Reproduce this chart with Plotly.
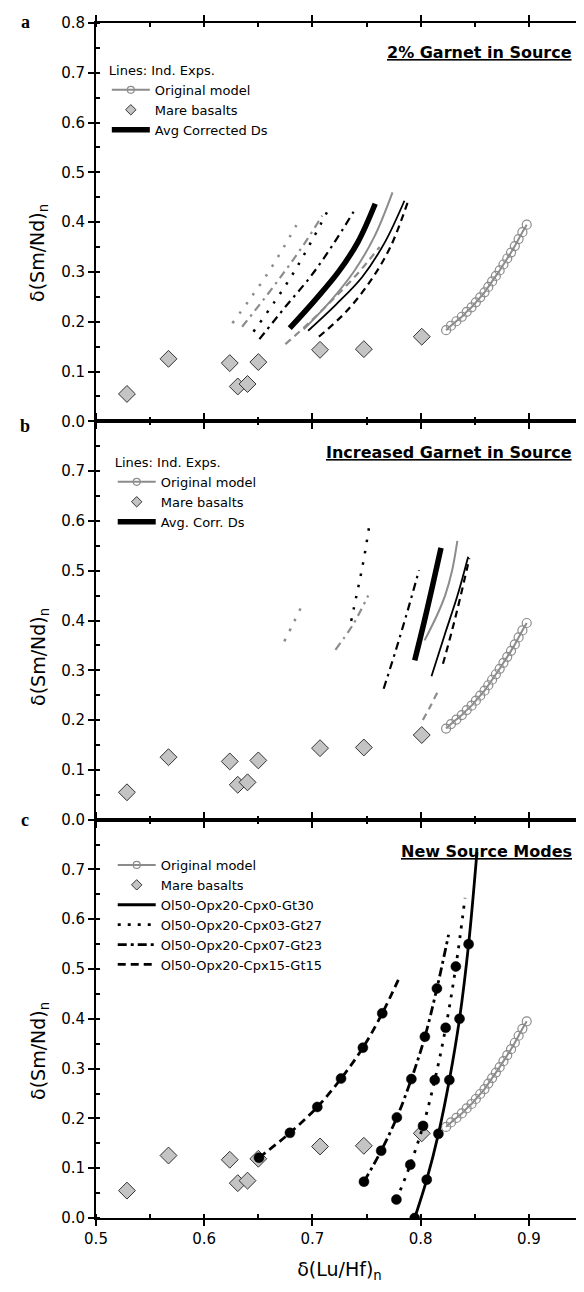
import plotly.graph_objects as go

# ---------------- data ----------------
mare_x = [0.5286, 0.567, 0.6236, 0.631, 0.640, 0.650, 0.707, 0.7475, 0.801]
mare_y = [0.055, 0.1255, 0.117, 0.070, 0.075, 0.119, 0.1436, 0.145, 0.170]

orig_x = [0.8235, 0.828, 0.833, 0.838, 0.8425, 0.847, 0.851, 0.855, 0.859, 0.8625,
          0.866, 0.8695, 0.873, 0.8765, 0.880, 0.8835, 0.887, 0.8905, 0.894, 0.898]
orig_y = [0.183, 0.192, 0.201, 0.210, 0.220, 0.229, 0.239, 0.249, 0.259, 0.270,
          0.281, 0.292, 0.303, 0.315, 0.327, 0.339, 0.352, 0.366, 0.380, 0.395]

# panel a: 2% garnet in source (individual experiments)
a_gray_dot_x = [0.626, 0.642, 0.658, 0.673, 0.688]
a_gray_dot_y = [0.197, 0.245, 0.295, 0.348, 0.405]
a_gray_dashdot_x = [0.635, 0.655, 0.674, 0.692, 0.709]
a_gray_dashdot_y = [0.190, 0.245, 0.300, 0.355, 0.413]
a_black_dot_x = [0.6455, 0.665, 0.683, 0.700, 0.717]
a_black_dot_y = [0.180, 0.240, 0.300, 0.365, 0.435]
a_black_dashdot_x = [0.651, 0.675, 0.698, 0.719, 0.738]
a_black_dashdot_y = [0.165, 0.230, 0.290, 0.355, 0.421]
a_avg_x = [0.679, 0.703, 0.724, 0.742, 0.758]
a_avg_y = [0.187, 0.245, 0.300, 0.360, 0.437]
a_gray_solid_x = [0.692, 0.716, 0.738, 0.757, 0.774]
a_gray_solid_y = [0.185, 0.240, 0.300, 0.370, 0.460]
a_gray_dash_x = [0.675, 0.697, 0.719, 0.741, 0.762]
a_gray_dash_y = [0.155, 0.198, 0.245, 0.295, 0.350]
a_black_solid_x = [0.696, 0.722, 0.746, 0.767, 0.785]
a_black_solid_y = [0.182, 0.235, 0.290, 0.360, 0.443]
a_black_dash_x = [0.706, 0.731, 0.753, 0.772, 0.788]
a_black_dash_y = [0.170, 0.220, 0.280, 0.350, 0.440]

# panel b: increased garnet in source
b_gray_dot_x = [0.674, 0.682, 0.690]
b_gray_dot_y = [0.358, 0.393, 0.429]
b_gray_dashdot_x = [0.7212, 0.7375, 0.7515]
b_gray_dashdot_y = [0.341, 0.392, 0.450]
b_black_dot_x = [0.7358, 0.7403, 0.7448, 0.7488, 0.7524]
b_black_dot_y = [0.399, 0.446, 0.493, 0.540, 0.589]
b_black_dashdot_x = [0.7658, 0.777, 0.788, 0.7985]
b_black_dashdot_y = [0.263, 0.340, 0.420, 0.501]
b_avg_x = [0.7945, 0.803, 0.811, 0.8188]
b_avg_y = [0.320, 0.395, 0.470, 0.546]
b_gray_solid_x = [0.8036, 0.815, 0.8227, 0.829, 0.8339]
b_gray_solid_y = [0.360, 0.410, 0.451, 0.500, 0.560]
b_black_solid_x = [0.810, 0.822, 0.834, 0.8439]
b_black_solid_y = [0.288, 0.370, 0.450, 0.528]
b_black_dash_x = [0.8206, 0.829, 0.837, 0.845]
b_black_dash_y = [0.313, 0.380, 0.450, 0.525]
b_gray_dash_x = [0.802, 0.809, 0.8155]
b_gray_dash_y = [0.200, 0.228, 0.256]

# panel c: new source modes (last point of each list is the line end, no marker)
c_gt30_x = [0.7945, 0.8056, 0.8164, 0.8265, 0.8359, 0.8443, 0.852]
c_gt30_y = [0.000, 0.077, 0.169, 0.277, 0.400, 0.550, 0.735]
c_gt27_x = [0.7776, 0.7904, 0.8022, 0.8130, 0.8231, 0.8325, 0.8410]
c_gt27_y = [0.037, 0.107, 0.185, 0.277, 0.382, 0.505, 0.643]
c_gt23_x = [0.7476, 0.7635, 0.7780, 0.7914, 0.8039, 0.8150, 0.8258]
c_gt23_y = [0.073, 0.135, 0.202, 0.279, 0.364, 0.461, 0.569]
c_gt15_x = [0.6506, 0.6792, 0.7045, 0.7264, 0.7466, 0.7645, 0.7803]
c_gt15_y = [0.121, 0.171, 0.223, 0.280, 0.342, 0.411, 0.483]

x_ticks = [0.5, 0.6, 0.7, 0.8, 0.9]
y_ticks_top = [0.0, 0.1, 0.2, 0.3, 0.4, 0.5, 0.6, 0.7, 0.8]
y_ticks_low = [0.0, 0.1, 0.2, 0.3, 0.4, 0.5, 0.6, 0.7]

panel_titles = ["2% Garnet in Source", "Increased Garnet in Source", "New Source Modes"]
panel_letters = ["a", "b", "c"]
legend_titles = ["Lines: Ind. Exps.", "Lines: Ind. Exps.", None]
avg_names = ["Avg Corrected Ds", "Avg. Corr. Ds"]
mode_names = ["Ol50-Opx20-Cpx0-Gt30", "Ol50-Opx20-Cpx03-Gt27",
              "Ol50-Opx20-Cpx07-Gt23", "Ol50-Opx20-Cpx15-Gt15"]

# ---------------- styles ----------------
GRAY = "#8c8c8c"
BLACK = "#000000"
DOT = "2.5px,9px"
DASHDOT = "8px,5px,2.5px,5px"
DASH = "7px,5px"
FONT = "DejaVu Sans"

fig = go.Figure()


def add_line(xs, ys, color, width, dash, ax):
    fig.add_trace(go.Scatter(x=xs, y=ys, mode="lines", showlegend=False,
                             line=dict(color=color, width=width, dash=dash,
                                       shape="spline", smoothing=1),
                             xaxis=ax[0], yaxis=ax[1], hoverinfo="skip"))


def add_common(ax):
    fig.add_trace(go.Scatter(x=orig_x, y=orig_y, mode="lines+markers", showlegend=False,
                             line=dict(color=GRAY, width=2, shape="spline"),
                             marker=dict(symbol="circle-open", size=9, color=GRAY,
                                         line=dict(width=1.2, color=GRAY)),
                             xaxis=ax[0], yaxis=ax[1]))
    fig.add_trace(go.Scatter(x=mare_x, y=mare_y, mode="markers", showlegend=False,
                             marker=dict(symbol="diamond", size=13, color="#c4c4c4",
                                         line=dict(width=1, color="#333333")),
                             xaxis=ax[0], yaxis=ax[1]))


def legend_entry(name, leg, mode, line=None, marker=None):
    kw = dict(x=[None], y=[None], mode=mode, name=name, legend=leg, showlegend=True)
    if line is not None:
        kw["line"] = line
    if marker is not None:
        kw["marker"] = marker
    fig.add_trace(go.Scatter(**kw))


axes = [("x", "y"), ("x2", "y2"), ("x3", "y3")]
legs = ["legend", "legend2", "legend3"]

# panel a
ax = axes[0]
add_line(a_gray_dot_x, a_gray_dot_y, GRAY, 2.5, DOT, ax)
add_line(a_gray_dashdot_x, a_gray_dashdot_y, GRAY, 2.2, DASHDOT, ax)
add_line(a_black_dot_x, a_black_dot_y, BLACK, 2.5, DOT, ax)
add_line(a_black_dashdot_x, a_black_dashdot_y, BLACK, 2.2, DASHDOT, ax)
add_line(a_gray_dash_x, a_gray_dash_y, GRAY, 2.2, DASH, ax)
add_line(a_black_dash_x, a_black_dash_y, BLACK, 2.2, DASH, ax)
add_line(a_black_solid_x, a_black_solid_y, BLACK, 1.8, "solid", ax)
add_line(a_gray_solid_x, a_gray_solid_y, GRAY, 2, "solid", ax)
add_line(a_avg_x, a_avg_y, BLACK, 5.5, "solid", ax)
add_common(ax)

# panel b
ax = axes[1]
add_line(b_gray_dot_x, b_gray_dot_y, GRAY, 2.5, DOT, ax)
add_line(b_gray_dashdot_x, b_gray_dashdot_y, GRAY, 2.2, DASHDOT, ax)
add_line(b_black_dot_x, b_black_dot_y, BLACK, 2.5, DOT, ax)
add_line(b_black_dashdot_x, b_black_dashdot_y, BLACK, 2.2, DASHDOT, ax)
add_line(b_gray_dash_x, b_gray_dash_y, GRAY, 2.2, DASH, ax)
add_line(b_black_dash_x, b_black_dash_y, BLACK, 2.2, DASH, ax)
add_line(b_black_solid_x, b_black_solid_y, BLACK, 1.8, "solid", ax)
add_line(b_gray_solid_x, b_gray_solid_y, GRAY, 2, "solid", ax)
add_line(b_avg_x, b_avg_y, BLACK, 5.5, "solid", ax)
add_common(ax)

# panel c
ax = axes[2]
add_common(ax)
mode_dashes = ["solid", "3px,7px", "9px,4px,3px,4px", "8px,5px"]
mode_data = [(c_gt30_x, c_gt30_y), (c_gt27_x, c_gt27_y),
             (c_gt23_x, c_gt23_y), (c_gt15_x, c_gt15_y)]
for (xs, ys), dsh in zip(mode_data, mode_dashes):
    fig.add_trace(go.Scatter(x=xs, y=ys, mode="lines", showlegend=False,
                             line=dict(color=BLACK, width=2.8, dash=dsh, shape="spline", smoothing=1),
                             xaxis=ax[0], yaxis=ax[1], hoverinfo="skip"))
    fig.add_trace(go.Scatter(x=xs[:-1], y=ys[:-1], mode="markers", showlegend=False,
                             marker=dict(symbol="circle", size=10, color=BLACK, opacity=1,
                                         line=dict(width=0.5, color=BLACK)),
                             xaxis=ax[0], yaxis=ax[1]))

# legends
for i, leg in enumerate(legs):
    legend_entry("Original model", leg, "lines+markers",
                 line=dict(color=GRAY, width=2),
                 marker=dict(symbol="circle-open", size=7, color=GRAY, line=dict(width=1.2, color=GRAY)))
    legend_entry("Mare basalts", leg, "markers",
                 marker=dict(symbol="diamond", size=8, color="#c4c4c4", line=dict(width=1, color="#333333")))
    if i < 2:
        legend_entry(avg_names[i], leg, "lines", line=dict(color=BLACK, width=5.5))
    else:
        for nm, dsh in zip(mode_names, mode_dashes):
            legend_entry(nm, leg, "lines", line=dict(color=BLACK, width=2.8, dash=dsh))

# ---------------- layout ----------------
W, H = 584, 1292
ML, MR, MT, MB = 88, 1, 15, 82
PW, PH = W - ML - MR, H - MT - MB


def px_x(p):
    return (p - ML) / PW


def px_y(p):
    return 1 - (p - MT) / PH


domains = [[2 / 3, 1], [1 / 3, 2 / 3], [0, 1 / 3]]
layout = dict(width=W, height=H, margin=dict(l=ML, r=MR, t=MT, b=MB),
              paper_bgcolor="white", plot_bgcolor="white",
              font=dict(family=FONT, color="black", size=13))

for i in range(3):
    sfx = "" if i == 0 else str(i + 1)
    xa = dict(domain=[0, 1], range=[0.5, 0.95], anchor="y" + sfx,
              showline=True, linewidth=2, linecolor="black", mirror="allticks",
              ticks="outside", ticklen=6, tickwidth=2, tickcolor="black",
              tickvals=x_ticks, tickformat=".1f", showgrid=False, zeroline=False,
              showticklabels=(i == 2), tickfont=dict(size=15, family=FONT),
              minor=dict(dtick=0.05, tick0=0.5, ticks="inside", ticklen=4, tickwidth=1.5,
                         tickcolor="black", showgrid=False))
    ya = dict(domain=domains[i], range=[0, 0.8], anchor="x" + sfx,
              showline=True, linewidth=2, linecolor="black", mirror="allticks",
              ticks="outside", ticklen=6, tickwidth=2, tickcolor="black",
              tickvals=y_ticks_top if i == 0 else y_ticks_low, tickformat=".1f",
              showgrid=False, zeroline=False, tickfont=dict(size=15, family=FONT),
              minor=dict(dtick=0.05, tick0=0, ticks="inside", ticklen=4, tickwidth=1.5,
                         tickcolor="black", showgrid=False))
    if i == 2:
        xa["title"] = dict(text="δ(Lu/Hf)<sub>n</sub>", font=dict(size=19, family=FONT), standoff=16)
    layout["xaxis" + sfx] = xa
    layout["yaxis" + sfx] = ya

leg_pos = [(99, 50), (105, 442), (105, 842)]
for i, leg in enumerate(legs):
    d = dict(x=px_x(leg_pos[i][0]), y=px_y(leg_pos[i][1]), xanchor="left", yanchor="top",
             bgcolor="rgba(0,0,0,0)", borderwidth=0, tracegroupgap=0, itemwidth=38,
             font=dict(size=13, family=FONT))
    if legend_titles[i]:
        d["title"] = dict(text=legend_titles[i], font=dict(size=13, family=FONT))
    layout[leg] = d

fig.update_layout(**layout)

title_py = [44, 444, 843]
ytitle_py = [245, 649, 1043]
letter_py = [14, 418, 812]
for i in range(3):
    fig.add_annotation(x=px_x(574), y=px_y(title_py[i]), xref="paper", yref="paper",
                       xanchor="right", yanchor="middle", showarrow=False,
                       text="<b><u>" + panel_titles[i] + "</u></b>",
                       font=dict(size=16, family=FONT, color="black"))
    fig.add_annotation(x=px_x(30), y=px_y(ytitle_py[i]), xref="paper", yref="paper",
                       xanchor="center", yanchor="middle", showarrow=False, textangle=-90,
                       text="δ(Sm/Nd)<sub>n</sub>", font=dict(size=19, family=FONT, color="black"))
    fig.add_annotation(x=px_x(16), y=px_y(letter_py[i]), xref="paper", yref="paper",
                       xanchor="center", yanchor="middle", showarrow=False,
                       text="<b>" + panel_letters[i] + "</b>",
                       font=dict(size=18, family="Liberation Serif", color="black"))

fig.write_html("out.html")
